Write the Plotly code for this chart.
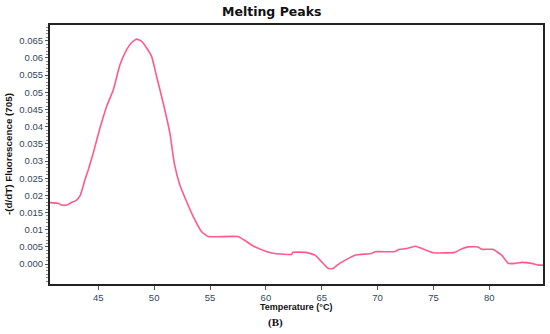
import plotly.graph_objects as go

temperature = [40.68, 41.4, 41.7, 42.2, 42.6, 43.0, 43.4, 43.8, 44.1, 44.55, 45.15, 45.75, 46.34, 46.94,
               47.54, 47.99, 48.43, 48.88, 49.33, 49.78, 50.22, 50.81, 51.41, 51.8, 52.3, 52.9, 53.5,
               54.25, 54.84, 57.5, 58.9, 60.1, 60.8, 62.3, 62.4, 63.6, 64.4, 64.98, 65.6, 66.0, 66.6,
               67.96, 69.45, 69.75, 71.5, 71.98, 72.7, 73.4, 73.9, 74.97, 76.9, 77.5, 78.1, 79.0, 79.3,
               80.3, 81.1, 81.7, 82.3, 82.9, 83.8, 84.4, 84.8]
neg_dfdt = [0.0179, 0.0177, 0.0172, 0.0172, 0.0179, 0.0185, 0.0201, 0.0245, 0.0274, 0.0323, 0.0396,
            0.0459, 0.0507, 0.0580, 0.0624, 0.0645, 0.0655, 0.0648, 0.0629, 0.0604, 0.0546, 0.0469,
            0.0381, 0.0294, 0.0230, 0.0182, 0.0138, 0.0094, 0.0080, 0.0080, 0.0052, 0.0036, 0.0031,
            0.0028, 0.0034, 0.0034, 0.0026, 0.0007, -0.0013, -0.0013, 0.0002, 0.0026, 0.0031, 0.0036,
            0.0036, 0.0043, 0.0046, 0.0052, 0.0046, 0.0033, 0.0034, 0.0044, 0.0050, 0.0050, 0.0043,
            0.0043, 0.0026, 0.0002, 0.0002, 0.0005, 0.0002, -0.0003, -0.0003]

x_ticks = [45, 50, 55, 60, 65, 70, 75, 80]
y_ticks = [0.065, 0.06, 0.055, 0.05, 0.045, 0.04, 0.035, 0.03, 0.025, 0.02, 0.015, 0.01, 0.005, 0.0]
y_tick_text = ["0.065", "0.06", "0.055", "0.05", "0.045", "0.04", "0.035", "0.03", "0.025", "0.02",
               "0.015", "0.01", "0.005", "0.000"]

L, R, T, B = 50, 7, 25, 50
W, H = 550, 334
PW, PH = W - L - R, H - T - B

fig = go.Figure()
fig.add_trace(go.Scatter(x=temperature, y=neg_dfdt, mode="lines",
                         line=dict(color="#ff5a8c", width=1.6, shape="spline", smoothing=0.4),
                         showlegend=False))

tick_font = dict(family="Liberation Sans, Arial, sans-serif", size=9.5, color="#34465e")


def px_to_paper(px, py):
    return (px - L) / PW, (H - B - py) / PH


annotations = []
for text, px, py, size, fam, angle in [
    ("<b>Melting Peaks</b>", 272, 11, 12.5, "DejaVu Sans, Verdana, sans-serif", 0),
    ("<b>Temperature (°C)</b>", 296, 307, 9, "Liberation Sans, Arial, sans-serif", 0),
    ("<b>(B)</b>", 275, 322, 11, "Liberation Serif, Times New Roman, serif", 0),
    ("<b>-(d/dT) Fluorescence (705)</b>", 8, 154, 9.8, "Liberation Sans, Arial, sans-serif", -90),
]:
    ax, ay = px_to_paper(px, py)
    annotations.append(dict(text=text, x=ax, y=ay, xref="paper", yref="paper",
                            showarrow=False, xanchor="center", yanchor="middle",
                            textangle=angle, font=dict(family=fam, size=size, color="#111")))

fig.update_layout(
    width=W, height=H,
    margin=dict(l=L, r=R, t=T, b=B, autoexpand=False),
    paper_bgcolor="white", plot_bgcolor="white",
    xaxis=dict(range=[40.68, 84.8], tickvals=x_ticks, ticks="outside", ticklen=4,
               tickcolor="#555", tickfont=tick_font, showgrid=False, zeroline=False,
               showline=True, linecolor="#222", linewidth=2, mirror=True, automargin=False),
    yaxis=dict(range=[-0.0058, 0.0696], tickvals=y_ticks, ticktext=y_tick_text,
               ticks="outside", ticklen=3, tickcolor="#555", tickfont=tick_font,
               showgrid=False, zeroline=False, showline=True, linecolor="#222",
               linewidth=2, mirror=True, automargin=False,
               minor=dict(dtick=0.001, tick0=0, ticks="outside", ticklen=2, tickcolor="#888")),
    annotations=annotations,
)

fig.write_html("out.html", config={"displayModeBar": False},
               post_script="document.body.style.margin='0';")
